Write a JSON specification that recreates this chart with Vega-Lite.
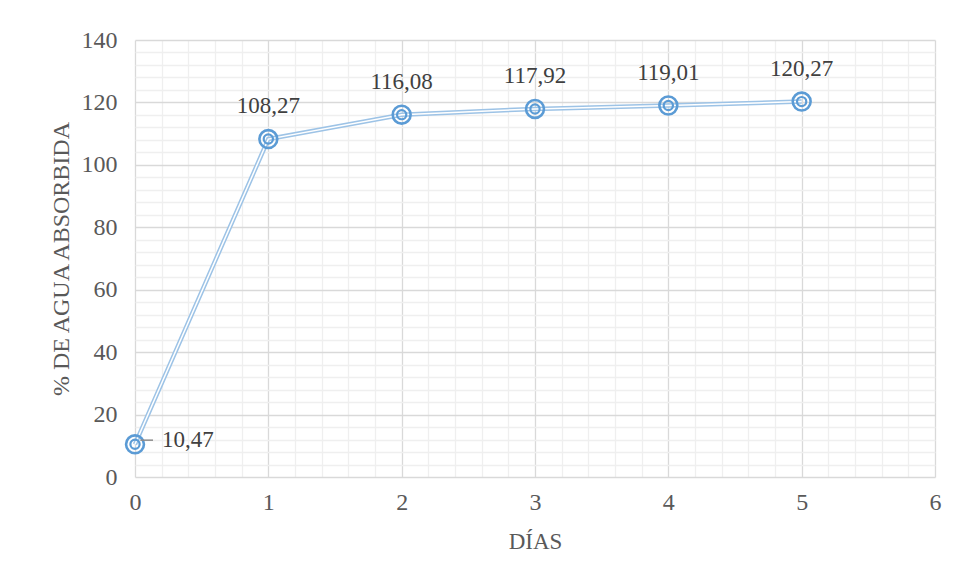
{
  "$schema": "https://vega.github.io/schema/vega-lite/v6.json",
  "autosize": "none",
  "width": 800,
  "height": 437,
  "padding": {"left": 135, "top": 40, "right": 23, "bottom": 103},
  "background": "white",
  "config": {
    "locale": {"number": {"decimal": ",", "thousands": ".", "grouping": [3], "currency": ["", " €"]}},
    "view": {"stroke": null},
    "font": "Liberation Serif, Times New Roman, serif"
  },
  "data": {"values": [
    {"dia": 0, "pct": 10.47},
    {"dia": 1, "pct": 108.27},
    {"dia": 2, "pct": 116.08},
    {"dia": 3, "pct": 117.92},
    {"dia": 4, "pct": 119.01},
    {"dia": 5, "pct": 120.27}
  ]},
  "encoding": {
    "x": {"field": "dia", "type": "quantitative",
      "scale": {"domain": [0, 6], "nice": false, "zero": false},
      "axis": {
        "title": "DÍAS", "titleFont": "Liberation Serif, Times New Roman, serif", "titleFontSize": 23, "titleFontWeight": "normal", "titleColor": "#595959", "titlePadding": 16,
        "values": [0,0.2,0.4,0.6,0.8,1,1.2,1.4,1.6,1.8,2,2.2,2.4,2.6,2.8,3,3.2,3.4,3.6,3.8,4,4.2,4.4,4.6,4.8,5,5.2,5.4,5.6,5.8,6],
        "labelExpr": "abs(datum.value - round(datum.value)) < 0.001 ? format(datum.value, 'd') : ''",
        "labelFont": "Liberation Serif, Times New Roman, serif", "labelFontSize": 24, "labelColor": "#595959", "labelPadding": 13,
        "labelFlush": false, "labelOverlap": false,
        "ticks": false, "domain": false,
        "gridColor": {"condition": {"test": "abs(datum.value - round(datum.value)) < 0.001", "value": "#d9d9d9"}, "value": "#efefef"},
        "gridWidth": 1.3
      }
    },
    "y": {"field": "pct", "type": "quantitative",
      "scale": {"domain": [0, 140], "nice": false},
      "axis": {
        "title": "% DE AGUA ABSORBIDA", "titleFont": "Liberation Serif, Times New Roman, serif", "titleFontSize": 24, "titleFontWeight": "normal", "titleColor": "#595959", "titlePadding": 8,
        "values": [0,4,8,12,16,20,24,28,32,36,40,44,48,52,56,60,64,68,72,76,80,84,88,92,96,100,104,108,112,116,120,124,128,132,136,140],
        "labelExpr": "datum.value % 20 === 0 ? datum.label : ''",
        "labelFont": "Liberation Serif, Times New Roman, serif", "labelFontSize": 24, "labelColor": "#595959", "labelPadding": 18,
        "labelFlush": false, "labelOverlap": false,
        "ticks": false, "domain": false,
        "gridColor": {"condition": {"test": "datum.value % 20 === 0", "value": "#d9d9d9"}, "value": "#efefef"},
        "gridWidth": 1.3
      }
    }
  },
  "layer": [
    {"mark": {"type": "line", "color": "#9dc3e6", "strokeWidth": 4.5}},
    {"mark": {"type": "line", "color": "white", "strokeWidth": 1.5}},
    {"mark": {"type": "point", "shape": "circle", "size": 320, "filled": false, "color": "#5b9bd5", "strokeWidth": 2.6, "opacity": 1}},
    {"mark": {"type": "point", "shape": "circle", "size": 85, "filled": false, "color": "#5b9bd5", "strokeWidth": 2.2, "opacity": 1}},
    {"transform": [{"filter": "datum.dia > 0"}],
     "mark": {"type": "text", "dy": -33, "fontSize": 23, "color": "#404040", "font": "Liberation Serif, Times New Roman, serif", "align": "center"},
     "encoding": {"text": {"field": "pct", "type": "quantitative", "format": ".2f"}}},
    {"transform": [{"filter": "datum.dia === 0"}],
     "mark": {"type": "text", "dx": 27, "dy": -4, "fontSize": 23, "color": "#404040", "font": "Liberation Serif, Times New Roman, serif", "align": "left"},
     "encoding": {"text": {"field": "pct", "type": "quantitative", "format": ".2f"}}},
    {"data": {"values": [{"x1": 0.04, "x2": 0.135, "yy": 11.8}]},
     "mark": {"type": "rule", "color": "#8c8c8c", "strokeWidth": 1.5},
     "encoding": {"x": {"field": "x1", "type": "quantitative"}, "x2": {"field": "x2"}, "y": {"field": "yy", "type": "quantitative"}}}
  ]
}
